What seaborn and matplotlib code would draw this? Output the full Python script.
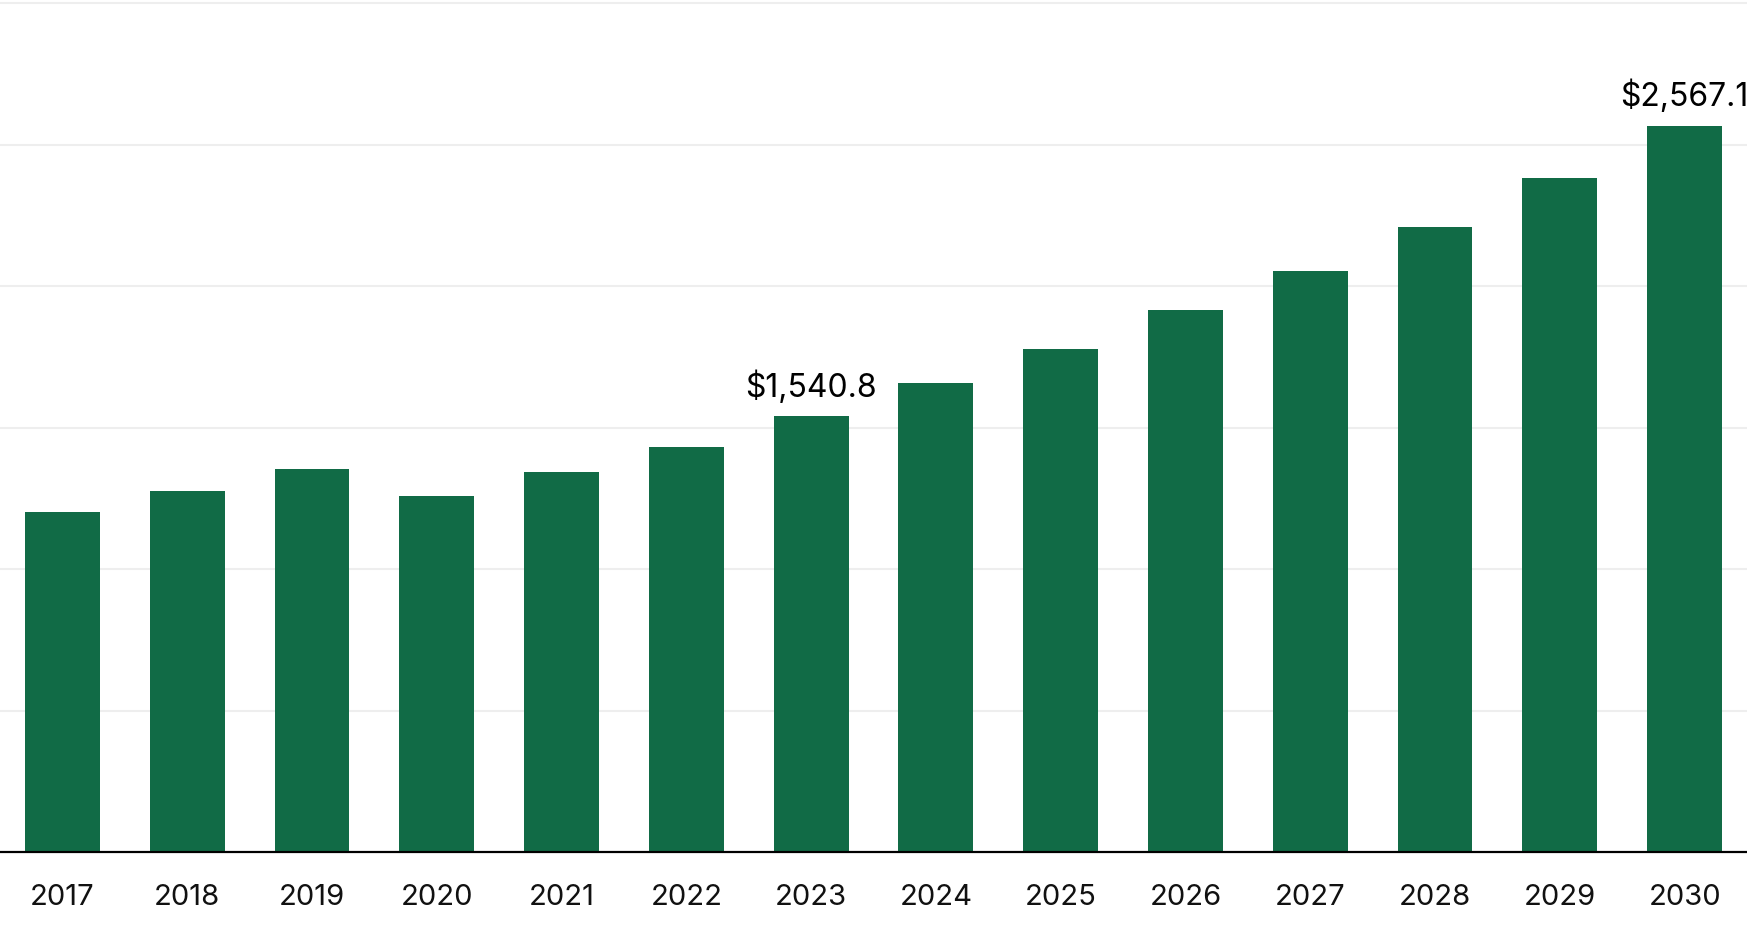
import matplotlib
matplotlib.use("Agg")
import matplotlib.pyplot as plt
import seaborn as sns
import pandas as pd

years = ["2017", "2018", "2019", "2020", "2021", "2022", "2023",
         "2024", "2025", "2026", "2027", "2028", "2029", "2030"]
values = [1204, 1277, 1356, 1258, 1344, 1434, 1540.8,
          1660, 1778, 1916, 2053, 2208, 2382, 2567.1]
labeled_years = ["2023", "2030"]
grid_values = [500, 1000, 1500, 2000, 2500, 3000]

sns.set_theme(style="white")
plt.rcParams["font.family"] = ["Inter", "DejaVu Sans"]

df = pd.DataFrame({"year": years, "value": values})

fig = plt.figure(figsize=(17.47, 9.25), dpi=100)
ax = fig.add_axes([0.0, 0.0784, 1.0, 0.9181])

for g in grid_values:
    ax.axhline(g, color="#eeeeee", lw=1.5, zorder=0, clip_on=False)

sns.barplot(data=df, x="year", y="value", color="#116B46", width=0.6,
            saturation=1, ax=ax, zorder=2, edgecolor="none")

ax.set_xlim(-0.5, len(years) - 0.5)
ax.set_ylim(0, 3000)
ax.set_xlabel("")
ax.set_ylabel("")
ax.set_yticks([])
for s in ["left", "right", "top"]:
    ax.spines[s].set_visible(False)
ax.spines["bottom"].set_color("black")
ax.spines["bottom"].set_linewidth(1.6)
ax.spines["bottom"].set_zorder(3)
ax.tick_params(axis="x", length=0, pad=23, labelsize=21, labelcolor="#111111")

for i, (y, v) in enumerate(zip(years, values)):
    if y in labeled_years:
        ax.annotate(f"${v:,.1f}", xy=(i, v), xytext=(0, 14),
                    textcoords="offset points", ha="center", va="baseline",
                    fontsize=23, color="#000000", annotation_clip=False)

fig.savefig("out.png", dpi=100)
